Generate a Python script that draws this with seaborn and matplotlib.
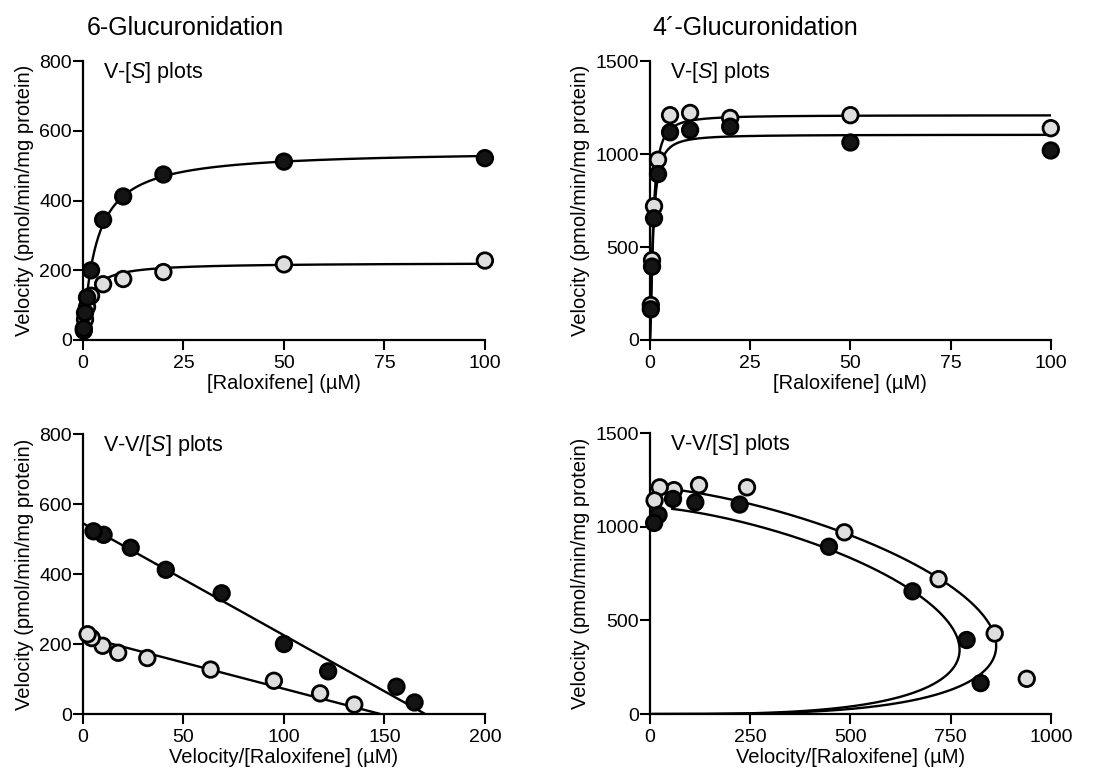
import numpy as np
import pandas as pd
import seaborn as sns
import matplotlib.pyplot as plt

sns.set_style('ticks')
plt.rcParams['font.family'] = ['Liberation Sans', 'DejaVu Sans']
plt.rcParams['mathtext.fontset'] = 'custom'
plt.rcParams['mathtext.rm'] = 'Liberation Sans'
plt.rcParams['mathtext.it'] = 'Liberation Sans:italic'
for key in ['text.color', 'axes.labelcolor', 'xtick.color', 'ytick.color', 'axes.edgecolor']:
    plt.rcParams[key] = 'black'

# Raloxifene concentrations (uM)
conc = [0.2, 0.5, 1, 2, 5, 10, 20, 50, 100]

# 6-glucuronidation velocities (pmol/min/mg protein)
v6_filled = [33, 78, 122, 200, 345, 412, 475, 512, 522]
v6_open = [27, 59, 95, 127, 160, 175, 195, 217, 228]

# 4'-glucuronidation velocities
v4_filled = [165, 395, 655, 893, 1118, 1130, 1148, 1063, 1020]
v4_open = [188, 430, 720, 970, 1210, 1222, 1195, 1210, 1140]

# fitted kinetic parameters
mm6_filled = (545, 3.2)           # Vmax, Km
mm6_open = (222, 1.5)
hill4_filled = (1105, 0.77, 1.45)  # Vmax, S50, n
hill4_open = (1210, 0.76, 1.43)

fs_title = 18
fs_label = 14.5
fs_tick = 14
fs_note = 15.5


def mm(s, vmax, km):
    return vmax * s / (km + s)


def hill(s, vmax, s50, n):
    return vmax * s ** n / (s50 ** n + s ** n)


def points_df(v_filled, v_open):
    d_open = pd.DataFrame({'S': conc, 'V': v_open, 'grp': 'open'})
    d_fill = pd.DataFrame({'S': conc, 'V': v_filled, 'grp': 'filled'})
    d = pd.concat([d_open, d_fill], ignore_index=True)
    d['VS'] = d['V'] / d['S']
    return d


def fit_df(func, params_list, s_top):
    rows = []
    for name, p in params_list:
        s_lin = np.linspace(1e-6, 100, 600)
        s_log = np.logspace(-6, np.log10(s_top), 800)
        rows.append(pd.DataFrame({'S': s_lin, 'V': func(s_lin, *p), 'grp': name, 'kind': 'vs'}))
        v = func(s_log, *p)
        rows.append(pd.DataFrame({'S': s_log, 'V': v, 'VS': v / s_log, 'grp': name, 'kind': 'eh'}))
    return pd.concat(rows, ignore_index=True)


pts6 = points_df(v6_filled, v6_open)
pts4 = points_df(v4_filled, v4_open)
fit6 = fit_df(mm, [('open', mm6_open), ('filled', mm6_filled)], 1e5)
fit4 = fit_df(hill, [('open', hill4_open), ('filled', hill4_filled)], 20)

palette = {'filled': '#141414', 'open': '#dedede'}

fig = plt.figure(figsize=(10.98, 7.72), dpi=100)
axA = fig.add_axes([0.0756, 0.5596, 0.366, 0.361])
axB = fig.add_axes([0.592, 0.5596, 0.365, 0.361])
axC = fig.add_axes([0.0756, 0.0751, 0.366, 0.3627])
axD = fig.add_axes([0.592, 0.0751, 0.365, 0.364])


def draw(ax, fit, pts, x, kind, xlim, ylim, xticks, yticks, xlabel, note):
    f = fit[fit['kind'] == kind]
    if kind == 'eh':
        f = f[f['VS'] <= xlim[1] * 1.2]
    sns.lineplot(data=f, x=x, y='V', units='grp', estimator=None, sort=False,
                 color='black', lw=1.7, ax=ax, legend=False)
    sns.scatterplot(data=pts, x=x, y='V', hue='grp', palette=palette, s=125,
                    edgecolor='black', linewidth=2.0, ax=ax, legend=False, zorder=3)
    ax.collections[-1].set_clip_on(False)
    ax.set_xlim(*xlim)
    ax.set_ylim(*ylim)
    ax.set_xticks(xticks)
    ax.set_yticks(yticks)
    ax.set_xlabel(xlabel, fontsize=fs_label, labelpad=1)
    ax.set_ylabel('Velocity (pmol/min/mg protein)', fontsize=fs_label, labelpad=4)
    ax.tick_params(axis='both', direction='out', length=7, width=1.5, labelsize=fs_tick)
    ax.tick_params(axis='x', pad=4)
    ax.tick_params(axis='y', pad=1)
    for sp in ['left', 'bottom']:
        ax.spines[sp].set_linewidth(1.6)
    sns.despine(ax=ax)
    ax.text(0.05, 0.96, note, transform=ax.transAxes, fontsize=fs_note, va='center', ha='left')


draw(axA, fit6, pts6, 'S', 'vs', (0, 100), (0, 800), [0, 25, 50, 75, 100],
     [0, 200, 400, 600, 800], '[Raloxifene] (µM)', r'V-[$\mathit{S}$] plots')
draw(axB, fit4, pts4, 'S', 'vs', (0, 100), (0, 1500), [0, 25, 50, 75, 100],
     [0, 500, 1000, 1500], '[Raloxifene] (µM)', r'V-[$\mathit{S}$] plots')
draw(axC, fit6, pts6, 'VS', 'eh', (0, 200), (0, 800), [0, 50, 100, 150, 200],
     [0, 200, 400, 600, 800], 'Velocity/[Raloxifene] (µM)', r'V-V/[$\mathit{S}$] plots')
draw(axD, fit4, pts4, 'VS', 'eh', (0, 1000), (0, 1500), [0, 250, 500, 750, 1000],
     [0, 500, 1000, 1500], 'Velocity/[Raloxifene] (µM)', r'V-V/[$\mathit{S}$] plots')

fig.text(87 / 1098, 1 - 28 / 772, '6-Glucuronidation', fontsize=fs_title, va='center', ha='left')
fig.text(652 / 1098, 1 - 28 / 772, '4\u00b4-Glucuronidation', fontsize=fs_title, va='center', ha='left')

fig.savefig('out.png', dpi=100)
